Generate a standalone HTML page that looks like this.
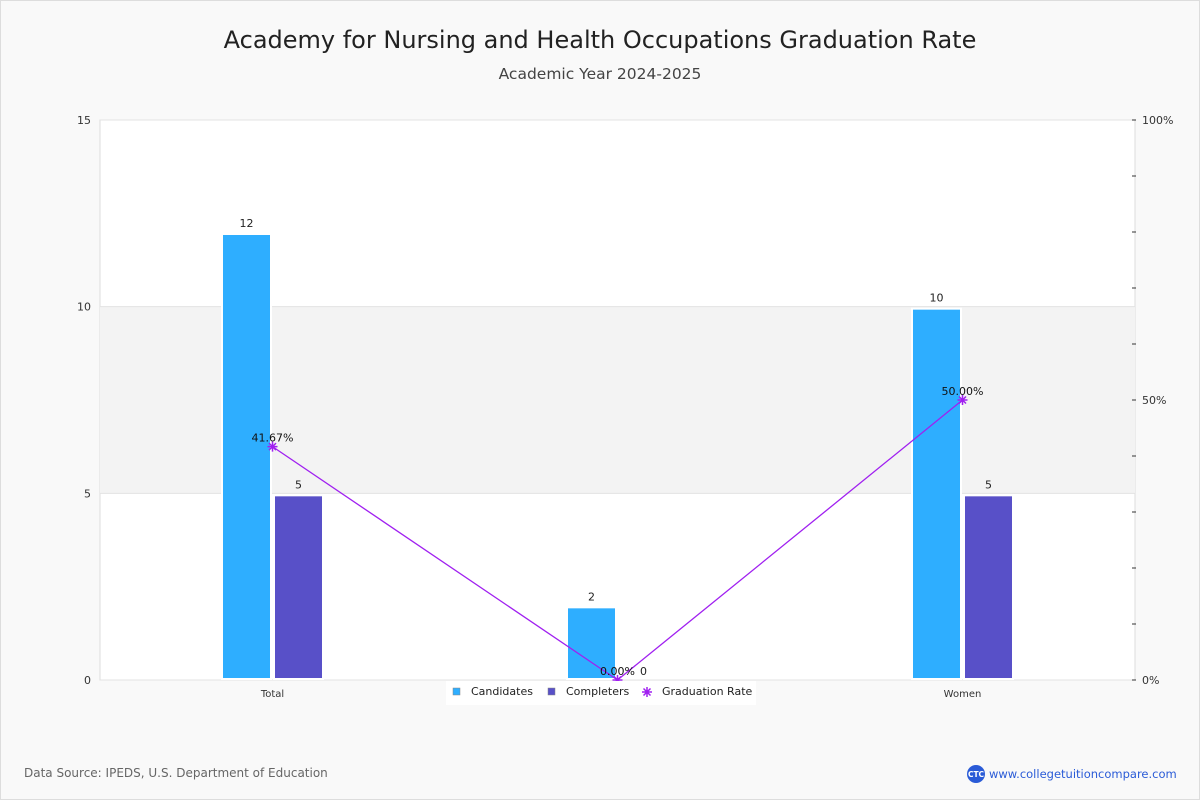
<!DOCTYPE html>
<html><head><meta charset="utf-8"><style>
body{margin:0;background:#f9f9f9;font-family:"Liberation Sans","DejaVu Sans",sans-serif}
#wrap{position:relative;width:1198px;height:798px;border:1px solid #ddd;background:#f9f9f9}
</style></head><body>
<div id="wrap">
<svg width="1200" height="800" style="position:absolute;left:-1px;top:-1px" font-family="DejaVu Sans, Liberation Sans, sans-serif">
<text x="600" y="48" text-anchor="middle" font-size="24" fill="#222">Academy for Nursing and Health Occupations Graduation Rate</text>
<text x="600" y="79" text-anchor="middle" font-size="15.5" fill="#444">Academic Year 2024-2025</text>
<g id="plot"></g>
<text x="24" y="777" font-size="12" fill="#666">Data Source: IPEDS, U.S. Department of Education</text>
<circle cx="976" cy="774" r="9" fill="#2a5bd7"/>
<text x="976" y="777" text-anchor="middle" font-size="7.5" fill="#fff" font-weight="bold">CTC</text>
<text x="989" y="778" font-size="11.5" fill="#2a5bd7">www.collegetuitioncompare.com</text>
</svg>
</div>
<script>
const categories=["Total","Men","Women"];
const candidates=[12,2,10];
const completers=[5,0,5];
const gradRate=[41.67,0,50];
const leftTicks=[0,5,10,15];
const NS="http://www.w3.org/2000/svg";
const g=document.getElementById('plot');
const X0=100,X1=1135,Y0=680,Y1=120;
const yL=v=>Y0-(v/15)*(Y0-Y1);
const yR=v=>Y0-(v/100)*(Y0-Y1);
const cw=(X1-X0)/categories.length;
const cx=i=>X0+cw*(i+0.5);
function el(t,a,txt){const e=document.createElementNS(NS,t);for(const k in a)e.setAttribute(k,a[k]);if(txt!=null)e.textContent=txt;g.appendChild(e);return e;}
const bg=el('rect',{x:X0,y:Y1,width:X1-X0,height:Y0-Y1,fill:'#fff',stroke:'#ddd'});

const band=el('rect',{x:X0,y:yL(10),width:X1-X0,height:yL(5)-yL(10),fill:'#f3f3f3'});

leftTicks.forEach(v=>{
 const l=el('line',{x1:X0,x2:X1,y1:yL(v),y2:yL(v),stroke:'#e3e3e3'});
 
 const t=el('text',{x:91,y:yL(v)+4,'text-anchor':'end','font-size':11,fill:'#333'},v);
 
});
for(let p=0;p<=100;p+=10){
 const l=el('line',{x1:1132,x2:1136,y1:yR(p),y2:yR(p),stroke:'#333'});
 
}
[0,50,100].forEach(p=>{
 const t=el('text',{x:1142,y:yR(p)+4,'font-size':11,fill:'#333'},p+'%');
 
});
const bw=47;
categories.forEach((c,i)=>{
 [[candidates,'#2eaeff',-bw-2.5],[completers,'#5850c8',2.5]].forEach(([arr,col,off],k)=>{
  const v=arr[i];const x=cx(i)+off;
  const y=yL(v)+3;
  const r=el('rect',{x:x,y:y,width:bw,height:Math.max(0,Y0-y-2),fill:col,stroke:'#fff','stroke-width':4,'paint-order':'stroke'});
  
  const t=el('text',{x:x+bw/2,y:y-8,'text-anchor':'middle','font-size':11,fill:'#222'},v);
  
 });
 const t=el('text',{x:cx(i),y:697,'text-anchor':'middle','font-size':10,fill:'#333'},c);
 
});
const pts=gradRate.map((v,i)=>[cx(i),yR(v)]);
const pl=el('polyline',{points:pts.map(p=>p.join(',')).join(' '),fill:'none',stroke:'#a020f0','stroke-width':1.3});

function star(x,y,name){
 const d=`M${x-5},${y}H${x+5}M${x},${y-5}V${y+5}M${x-3.5},${y-3.5}L${x+3.5},${y+3.5}M${x-3.5},${y+3.5}L${x+3.5},${y-3.5}`;
 const m=el('path',{d:d,stroke:'#a020f0','stroke-width':1.5,fill:'none'});
 
}
pts.forEach((p,i)=>{
 star(p[0],p[1],'graduation-rate-point');
 const t=el('text',{x:p[0],y:p[1]-5,'text-anchor':'middle','font-size':11,fill:'#111'},gradRate[i].toFixed(2)+'%');
 
});
const lg=el('rect',{x:446,y:681,width:310,height:24,fill:'#fff'});

[['Candidates','#2eaeff',453],['Completers','#5850c8',548]].forEach(([n,c,x])=>{
 const s=el('rect',{x:x,y:688,width:7,height:7,fill:c,stroke:'#888','stroke-width':0.5});
 
 const t=el('text',{x:x+18,y:695,'font-size':11,fill:'#222'},n);
 
});
star(647,692,'legend-swatch');
const lt=el('text',{x:662,y:695,'font-size':11,fill:'#222'},'Graduation Rate');

</script>
</body></html>
